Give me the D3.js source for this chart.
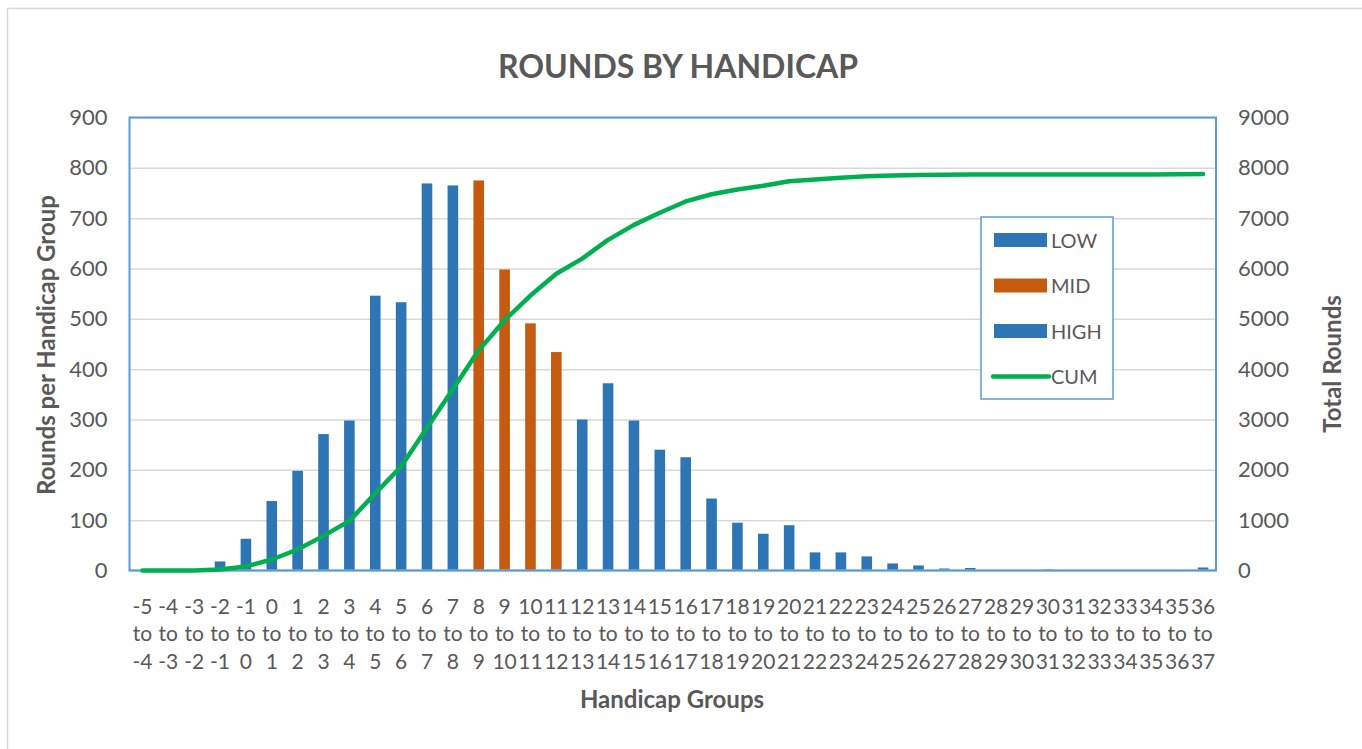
<!DOCTYPE html>
<html>
<head>
<meta charset="utf-8">
<style>
  body { margin: 0; background: #fff; }
  text { font-family: Lato, "Open Sans", sans-serif; fill: #595959; }
</style>
</head>
<body>
<svg id="chart" width="1362" height="749"></svg>
<script src="https://d3js.org/d3.v7.min.js"></script>
<script>

// handicap groups: "from" and "to" lines of each tick label
var groupFrom = d3.range(-5, 37).map(String);
var groupTo = d3.range(-4, 38).map(String);

// rounds per handicap group (left axis)
var low  = [0, 0, 0, 18, 63, 138, 198, 271, 298, 546, 533, 769, 765];
var mid  = [775, 598, 491, 434];
var high = [300, 372, 298, 240, 225, 143, 95, 73, 90, 36, 36, 28, 14, 10, 4, 5, 1, 0, 2, 0, 0, 0, 1, 1, 6];

// cumulative total rounds (right axis)
var cum = [0, 0, 0, 18, 81, 219, 417, 688, 986, 1532, 2065, 2834, 3599, 4374, 4972, 5463,
           5897, 6197, 6569, 6867, 7107, 7332, 7475, 7570, 7643, 7733, 7769, 7805, 7833,
           7847, 7857, 7861, 7866, 7867, 7867, 7869, 7869, 7869, 7869, 7870, 7871, 7877];

var leftTicks = d3.range(0, 901, 100);
var rightTicks = d3.range(0, 9001, 1000);

var colors = { LOW: "#2E75B6", MID: "#C55A11", HIGH: "#2E75B6", CUM: "#00B050" };

var svg = d3.select("#chart"),
    margin = {top: 117.5, right: 146, bottom: 178.5, left: 129.5},
    width = +svg.attr("width") - margin.left - margin.right,
    height = +svg.attr("height") - margin.top - margin.bottom;

// outer chart frame
svg.append("rect")
    .attr("x", 7.5).attr("y", 8.5)
    .attr("width", 1362).attr("height", 749)
    .attr("fill", "none")
    .attr("stroke", "#d9d9d9")
    .attr("stroke-width", 1.5);

var g = svg.append("g").attr("transform", "translate(" + margin.left + "," + margin.top + ")");

var x = d3.scaleBand().domain(groupFrom).range([0, width]).paddingInner(0.59).paddingOuter(0.295);
var y = d3.scaleLinear().domain([0, 900]).range([height, 0]);
var y2 = d3.scaleLinear().domain([0, 9000]).range([height, 0]);

// gridlines
g.append("g")
    .call(d3.axisLeft(y).tickValues(leftTicks.slice(1)).tickSize(-width).tickFormat(""))
    .call(function(s) { s.select(".domain").remove(); })
    .selectAll("line").attr("stroke", "#d9d9d9").attr("stroke-width", 1.5);

// bars
var bars = [];
low.forEach(function(v, i) { bars.push({cat: groupFrom[i], v: v, s: "LOW"}); });
mid.forEach(function(v, i) { bars.push({cat: groupFrom[low.length + i], v: v, s: "MID"}); });
high.forEach(function(v, i) { bars.push({cat: groupFrom[low.length + mid.length + i], v: v, s: "HIGH"}); });

g.append("g").selectAll("rect")
  .data(bars)
  .enter().append("rect")
    .attr("x", function(d) { return x(d.cat); })
    .attr("width", x.bandwidth())
    .attr("y", function(d) { return y(d.v); })
    .attr("height", function(d) { return height - y(d.v); })
    .attr("fill", function(d) { return colors[d.s]; });

// bottom axis line
g.append("line")
    .attr("x1", 0).attr("x2", width)
    .attr("y1", height).attr("y2", height)
    .attr("stroke", "#a9bfd6").attr("stroke-width", 2);

// plot border
g.append("rect")
    .attr("width", width).attr("height", height)
    .attr("fill", "none")
    .attr("stroke", "#5B9BD5")
    .attr("stroke-width", 2);

// cumulative line
var line = d3.line()
    .x(function(d, i) { return x(groupFrom[i]) + x.bandwidth() / 2; })
    .y(function(d) { return y2(d); });

g.append("path")
    .datum(cum)
    .attr("fill", "none")
    .attr("stroke", colors.CUM)
    .attr("stroke-width", 4.5)
    .attr("stroke-linecap", "round")
    .attr("stroke-linejoin", "round")
    .attr("d", line);

// left axis
var la = g.append("g")
    .call(d3.axisLeft(y).tickValues(leftTicks).tickSize(0).tickPadding(22));
la.select(".domain").remove();
la.selectAll("text").style("font-size", "22px").attr("fill", "#595959").style("font-family", "Lato, sans-serif");

// right axis
var ra = g.append("g")
    .attr("transform", "translate(" + width + ",0)")
    .call(d3.axisRight(y2).tickValues(rightTicks).tickSize(0).tickPadding(22).tickFormat(d3.format("d")));
ra.select(".domain").remove();
ra.selectAll("text").style("font-size", "22px").attr("fill", "#595959").style("font-family", "Lato, sans-serif");

// x tick labels (three lines)
var xt = g.append("g").selectAll("text")
  .data(groupFrom)
  .enter().append("text")
    .attr("x", function(d) { return x(d) + x.bandwidth() / 2; })
    .attr("y", height + 43)
    .attr("text-anchor", "middle")
    .style("font-size", "21px");
xt.append("tspan").text(function(d) { return d; });
xt.append("tspan").attr("x", function(d) { return x(d) + x.bandwidth() / 2; }).attr("dy", 27.5).text("to");
xt.append("tspan").attr("x", function(d) { return x(d) + x.bandwidth() / 2; }).attr("dy", 27.5)
    .text(function(d, i) { return groupTo[i]; });

// title
svg.append("text")
    .attr("x", 678).attr("y", 78)
    .attr("text-anchor", "middle")
    .style("font-size", "32px").style("font-weight", "bold")
    .text("ROUNDS BY HANDICAP");

// axis titles
svg.append("text")
    .attr("x", 672).attr("y", 708)
    .attr("text-anchor", "middle")
    .style("font-size", "24px").style("font-weight", "bold")
    .text("Handicap Groups");

svg.append("text")
    .attr("transform", "translate(55,345) rotate(-90)")
    .attr("text-anchor", "middle")
    .style("font-size", "24px").style("font-weight", "bold")
    .text("Rounds per Handicap Group");

svg.append("text")
    .attr("transform", "translate(1341,364) rotate(-90)")
    .attr("text-anchor", "middle")
    .style("font-size", "24px").style("font-weight", "bold")
    .text("Total Rounds");

// legend
var legendKeys = ["LOW", "MID", "HIGH", "CUM"];
var lg = svg.append("g").attr("transform", "translate(981,217)");
lg.append("rect")
    .attr("width", 132).attr("height", 182)
    .attr("fill", "#fff")
    .attr("stroke", "#5B9BD5").attr("stroke-width", 1.5);
var items = lg.selectAll("g.item")
  .data(legendKeys)
  .enter().append("g")
    .attr("transform", function(d, i) { return "translate(0," + (23 + i * 45.5) + ")"; });
items.each(function(d) {
  var it = d3.select(this);
  if (d === "CUM") {
    it.append("line").attr("x1", 12).attr("x2", 68).attr("y1", 0).attr("y2", 0)
      .attr("stroke", colors[d]).attr("stroke-width", 4.5).attr("stroke-linecap", "round");
  } else {
    it.append("rect").attr("x", 13).attr("y", -7).attr("width", 53).attr("height", 14)
      .attr("fill", colors[d]);
  }
});
items.append("text")
    .attr("x", 70).attr("y", 7.5)
    .style("font-size", "20px")
    .text(function(d) { return d; });

</script>
</body>
</html>
